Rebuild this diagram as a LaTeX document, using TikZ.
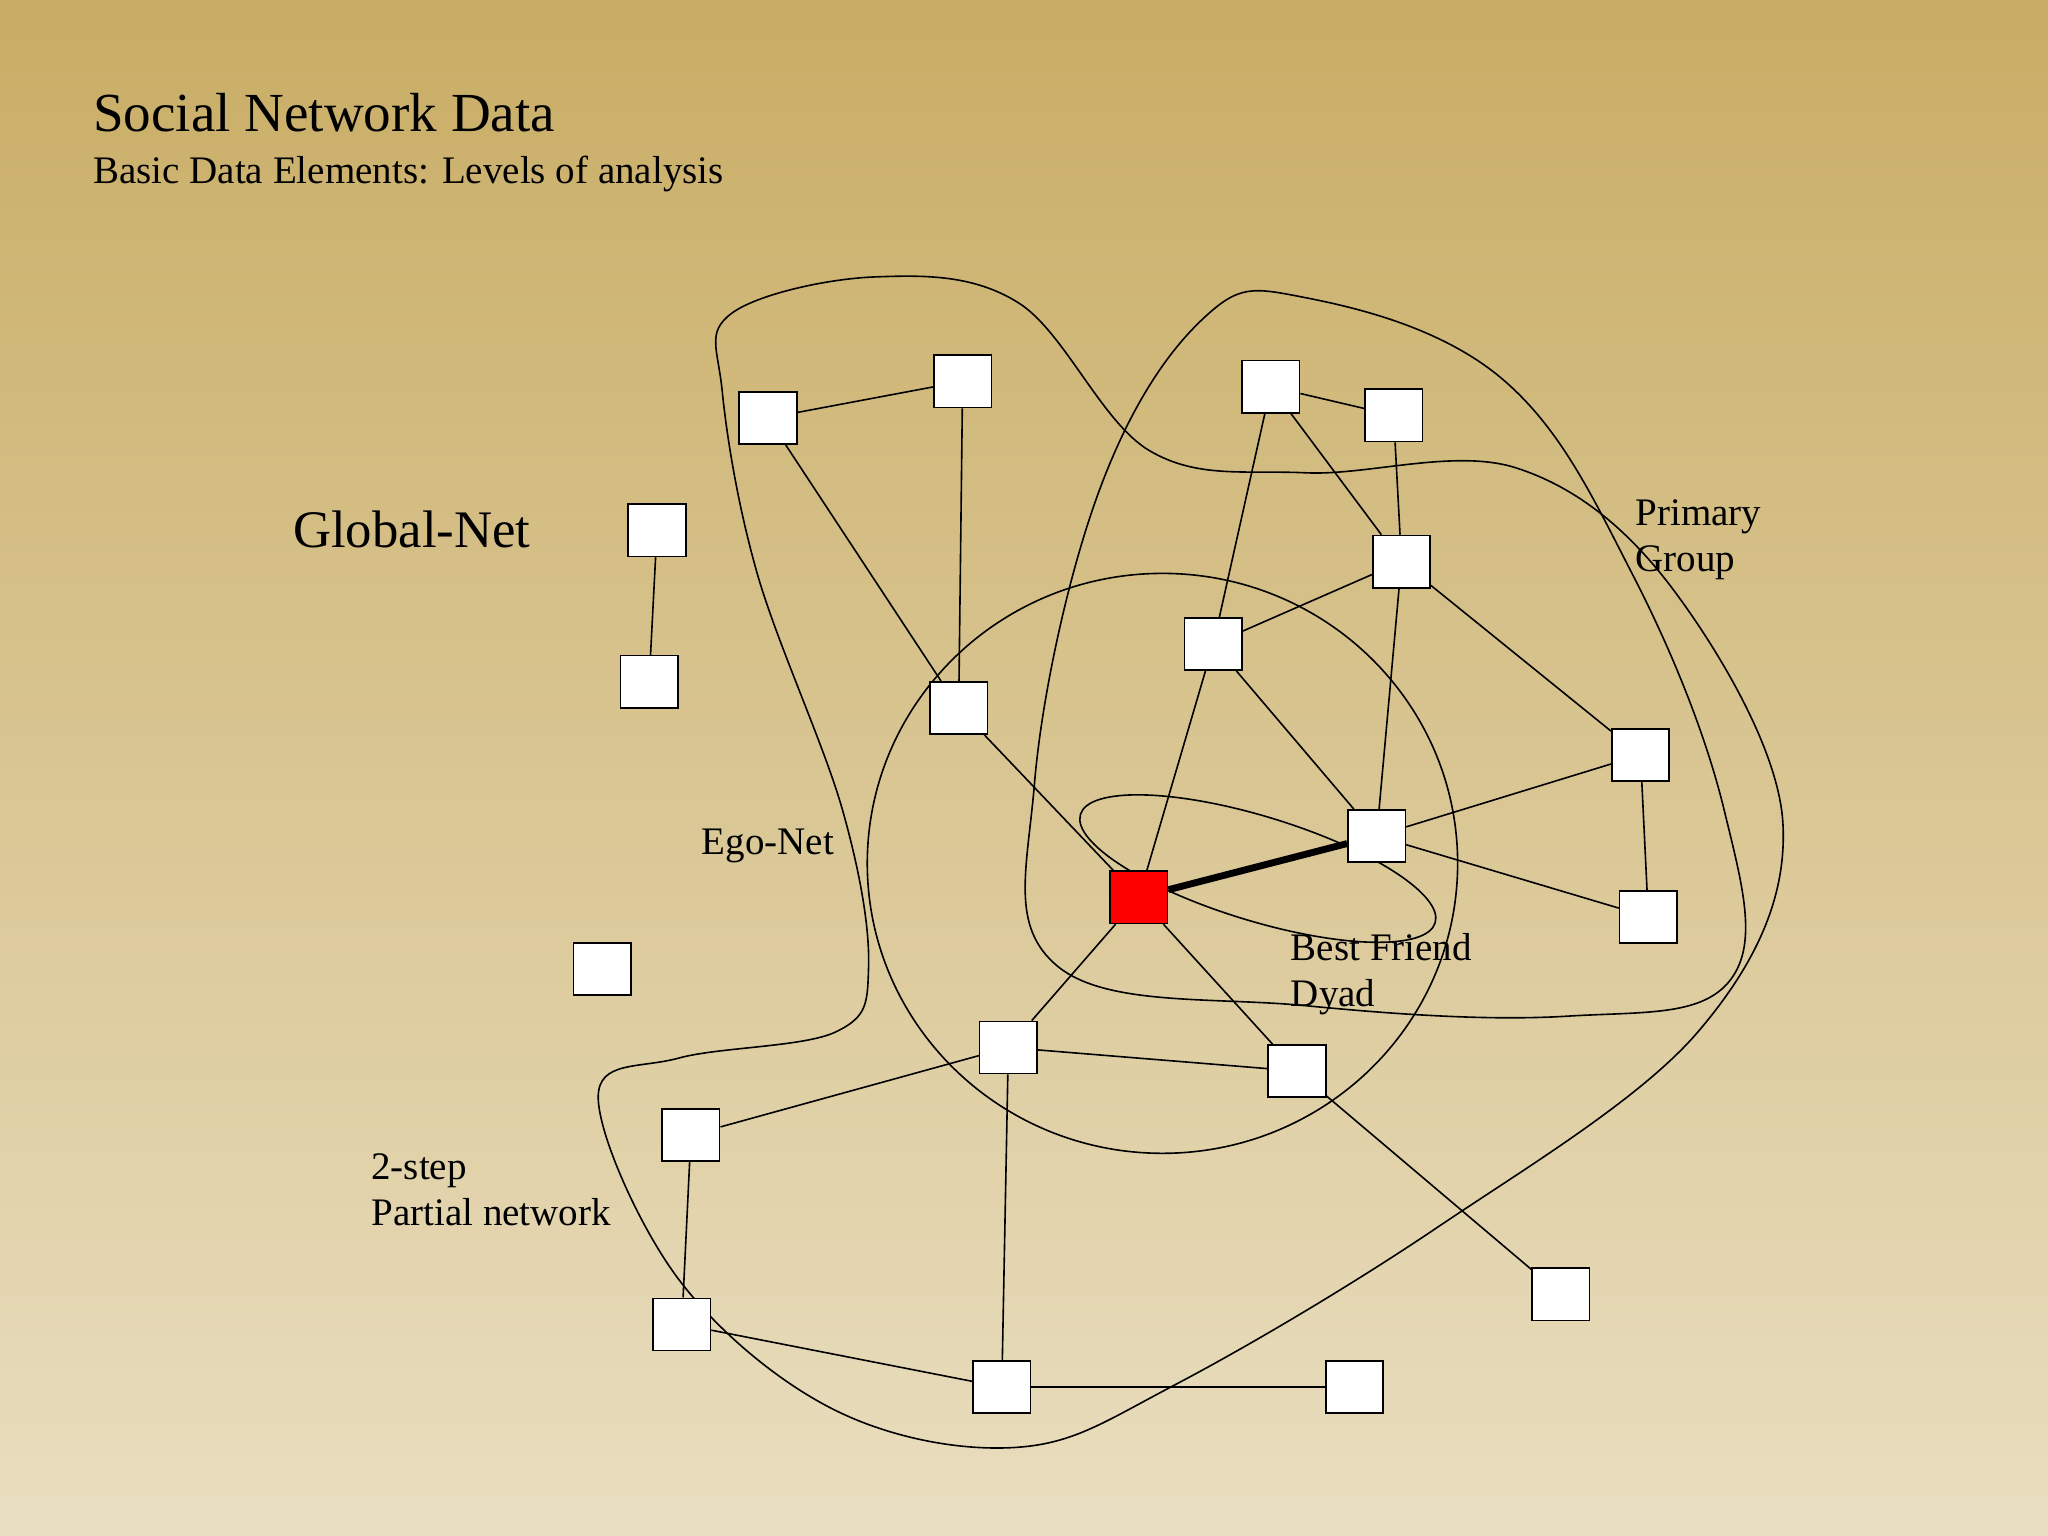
\documentclass[tikz,border=0pt]{standalone}
\usepackage{fontspec}
\setmainfont{Liberation Serif}
\begin{document}
\begin{tikzpicture}[x=0.02cm,y=-0.02cm,
  box/.style={draw,fill=white,minimum width=0.88cm,minimum height=0.8cm,inner sep=0pt,line width=0.7pt},
  ln/.style={line width=0.7pt},
  lab/.style={anchor=west,font=\fontsize{17}{20}\selectfont,align=left,inner sep=0pt}]
\shade[top color={rgb,255:red,201;green,173;blue,101},bottom color={rgb,255:red,233;green,222;blue,192}] (0,0) rectangle (1568,1176);
\useasboundingbox (0,0) rectangle (1568,1176);
\node[anchor=west,inner sep=0pt,font=\fontsize{24}{28}\selectfont] at (71,86) {Social Network Data};
\node[anchor=west,inner sep=0pt,font=\fontsize{17}{20}\selectfont] at (71,133) {Basic Data Elements: Levels of analysis};
\node[anchor=west,inner sep=0pt,font=\fontsize{23}{26}\selectfont] at (224,405) {Global-Net};
\node[lab] at (537,648) {Ego-Net};
\node[lab] at (1252,413) {Primary\\Group};
\node[lab] at (988,746) {Best Friend\\Dyad};
\node[lab] at (284,911) {2-step\\Partial network};
% curves
\draw[ln] (890,661) ellipse (226 and 222);
\draw[ln,rotate around={-17:(963,665)}] (963,665) ellipse (142 and 40);
\draw[ln] plot[smooth cycle,tension=0.65] coordinates {(1000,228) (1150,290) (1250,440) (1320,620) (1325,750) (1200,778) (1000,770) (810,740) (792,600) (840,380) (920,245)};
\draw[ln] plot[smooth cycle,tension=0.6] coordinates {(560,240) (670,212) (780,232) (880,345) (1000,362) (1160,358) (1280,450) (1365,630) (1300,790) (1100,940) (900,1060) (780,1108) (640,1080) (520,980) (458,840) (520,810) (640,790) (665,740) (645,620) (580,440) (553,300)};
% nodes
\node[box] (A) at (588,320) {};
\node[box] (B) at (737,292) {};
\node[box] (C) at (503,406) {};
\node[box] (D) at (497,522) {};
\node[box] (E) at (734,542) {};
\node[box] (F) at (973,296) {};
\node[box] (G) at (1067,318) {};
\node[box] (H) at (1073,430) {};
\node[box] (I) at (929,493) {};
\node[box] (J) at (1256,578) {};
\node[box] (K) at (1054,640) {};
\node[box] (L) at (1262,702) {};
\node[box,fill=red] (X) at (872,687) {};
\node[box] (M) at (461,742) {};
\node[box] (N) at (772,802) {};
\node[box] (O) at (993,820) {};
\node[box] (P) at (529,869) {};
\node[box] (Q) at (522,1014) {};
\node[box] (R) at (767,1062) {};
\node[box] (S) at (1037,1062) {};
\node[box] (T) at (1195,991) {};
\foreach \a/\b in {A/B,A/E,B/E,C/D,F/G,F/H,G/H,F/I,H/I,H/K,H/J,I/K,I/X,E/X,K/J,K/L,J/L,X/N,X/O,N/O,N/P,N/R,O/T,P/Q,Q/R,R/S}
  \draw[ln] (\a) -- (\b);
\draw[line width=3pt] (X) -- (K);
\end{tikzpicture}
\end{document}
